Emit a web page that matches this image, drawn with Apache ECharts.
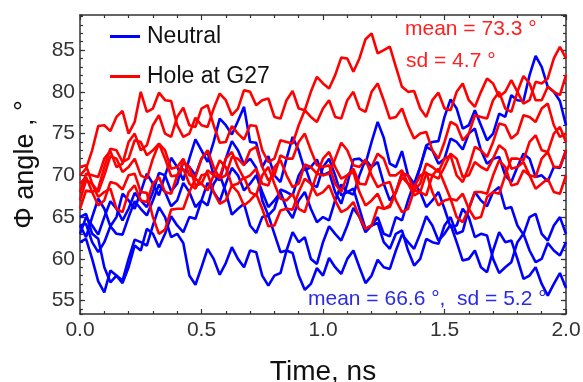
<!DOCTYPE html>
<html>
<head>
<meta charset="utf-8">
<title>Phi angle vs time</title>
<script src="https://cdn.jsdelivr.net/npm/echarts@6/dist/echarts.min.js"></script>
<style>
  html, body { margin: 0; padding: 0; background: #fff; }
  #chart { width: 583px; height: 382px; }
</style>
</head>
<body>
<div id="chart"></div>
<script>
// time grid, ns (every 0.025 ns, 81 samples)
var times = [];
for (var i = 0; i <= 80; i++) times.push(+(i * 0.025).toFixed(3));

// Neutral runs (blue), deg — each row is 0.25 ns
var neutral1 = [
  64, 62.6, 65, 67.2, 66, 63.9, 65, 67.8, 67, 66.0,
  68, 70.2, 69, 67.6, 70, 72.1, 71, 69.4, 72, 74.3,
  73, 71.6, 74, 76.8, 76, 74.9, 76.5, 78.2, 74, 73.9,
  71, 72.3, 70, 69.2, 72, 74.6, 73, 70.6, 71, 71.9,
  70, 70.4, 68, 66.6, 69, 71.9, 72, 71.4, 74, 76.4,
  74.5, 71.4, 71, 72.9, 70, 68.6, 71, 73.6, 74, 74.1,
  77, 79.1, 78, 75.6, 76, 77.8, 76, 74.2, 75, 77.4,
  77, 79.6, 79, 78.9, 82, 84.3, 83, 80.6, 80, 78.9,
  76
];
var neutral2 = [
  62, 62.4, 60, 57.3, 56, 58.6, 58, 57.1, 59, 61.6,
  61, 63.6, 63, 61.4, 63, 65.1, 64, 63.2, 65, 64.8,
  67, 66.4, 69, 70.1, 68, 65.3, 66, 66.6, 64, 63.1,
  65, 65.2, 63, 60.8, 61, 60.7, 58, 56.3, 57, 58.9,
  58, 60.1, 59, 58.2, 60, 61.0, 59, 57.1, 58, 59.9,
  59, 58.8, 61, 62.9, 62, 61.2, 63, 65.1, 64, 62.2,
  63, 64.1, 62, 59.8, 60, 61.0, 59, 58.4, 61, 63.2,
  62, 62.2, 60, 57.6, 58, 59.0, 57, 55.6, 57, 58.3,
  56.5
];
var neutral3 = [
  65, 65.4, 63, 62.4, 59, 57.2, 58, 57.4, 60, 62.3,
  62, 61.6, 64, 66.2, 65, 62.6, 63, 61.9, 58, 56.9,
  59, 61.2, 60, 58.1, 59.5, 61.4, 60, 59.0, 61, 60.8,
  58, 56.8, 58, 58.3, 61, 63.2, 62, 62.6, 60, 59.4,
  62, 63.9, 63, 62.2, 64, 66.1, 65, 63.2, 64, 65.0,
  63, 62.7, 65, 64.6, 67, 69.1, 68, 66.2, 67, 68.0,
  66, 63.8, 64, 66.0, 65, 62.6, 63, 62.8, 60, 58.3,
  59, 59.6, 62, 63.0, 61, 59.6, 60, 61.9, 61, 60.4,
  62
];
var neutral4 = [
  63, 65.0, 64, 62.9, 65, 66.9, 66, 64.6, 66, 67.9,
  67, 66.2, 68, 70.3, 70, 68.1, 69, 71.6, 71, 70.0,
  72, 72.8, 70, 69.4, 72, 74.1, 73, 71.3, 72, 70.9,
  67, 65.2, 66, 68.3, 68, 67.6, 70, 71.2, 69, 68.6,
  71, 72.0, 70, 67.6, 68, 68.4, 66, 63.6, 64, 64.3,
  62, 61.2, 63, 63.4, 61, 59.2, 60, 62.4, 62, 61.8,
  64, 65.0, 63, 63.3, 66, 68.0, 67, 66.3, 68, 68.6,
  66, 66.2, 64, 62.9, 65, 65.4, 63, 62.2, 64, 65.0,
  63
];
var neutral5 = [
  64, 64.2, 62, 60.8, 62, 63.9, 63, 62.9, 65, 66.9,
  66, 65.2, 67, 68.9, 68, 66.3, 67, 69.1, 68, 66.2,
  67, 69.1, 68, 66.9, 69, 70.9, 70, 68.2, 69, 70.0,
  68, 66.2, 67, 68.0, 66, 64.9, 67, 68.0, 66, 64.4,
  65, 64.6, 67, 68.9, 68, 67.7, 70, 71.9, 71, 71.6,
  69, 67.0, 68, 70.2, 70, 69.0, 71, 73.4, 73, 71.4,
  72, 74.4, 74, 73.1, 75, 75.6, 73, 71.4, 72, 72.2,
  70, 69.2, 71, 72.6, 72, 69.8, 70, 69.3, 71, 70.9,
  73
];

// Hole at G27 runs (red), deg
var hole1 = [
  70, 70.8, 73, 75.9, 76, 75.3, 77, 77.7, 75, 76.4,
  80, 77.6, 78, 79.9, 79, 78.9, 76, 74.6, 75, 76.9,
  76, 75.8, 78, 79.8, 79, 77.2, 78, 80.2, 80, 78.4,
  79, 79.2, 77, 76.8, 79, 80.1, 78, 77.8, 80, 81.8,
  81, 80.4, 82, 84.1, 84, 82.4, 84, 86.3, 87, 84.6,
  85, 85.4, 83, 80.6, 80, 80.1, 78, 77.0, 79, 79.9,
  78, 77.8, 80, 81.0, 79, 78.2, 80, 81.6, 81, 79.4,
  80, 81.4, 80, 78.6, 79, 81.2, 81, 81.6, 84, 85.4,
  84
];
var hole2 = [
  68, 70.2, 70, 69.8, 72, 72.9, 71, 71.4, 74, 75.0,
  73, 73.6, 76, 77.2, 75, 74.6, 77, 78.1, 76, 75.8,
  78, 78.4, 76, 73.9, 74, 75.9, 75, 74.3, 76, 75.9,
  73, 71.6, 72, 74.2, 74, 73.8, 76, 77.8, 77, 76.4,
  78, 79.0, 77, 76.8, 79, 80.0, 78, 77.6, 80, 81.0,
  79, 76.8, 77, 78.0, 76, 74.4, 75, 75.2, 73, 72.0,
  74, 76.4, 76, 74.2, 75, 77.2, 77, 76.8, 79, 80.0,
  78, 77.6, 80, 81.9, 81, 79.0, 79, 80.6, 80, 79.6,
  82
];
var hole3 = [
  67, 69.4, 69, 68.0, 70, 72.3, 72, 70.4, 71, 72.0,
  70, 69.6, 72, 73.8, 73, 70.8, 71, 72.0, 70, 69.8,
  72, 73.0, 71, 69.6, 70, 72.2, 72, 71.2, 73, 73.4,
  71, 69.4, 70, 72.4, 72, 72.0, 74, 75.0, 73, 71.2,
  71, 71.2, 69, 68.0, 70, 70.4, 68, 66.4, 67, 67.8,
  66, 66.2, 68, 70.3, 70, 68.2, 69, 71.4, 71, 70.4,
  72, 72.4, 70, 69.2, 71, 73.4, 73, 72.2, 74, 76.2,
  76, 74.4, 75, 77.2, 77, 76.4, 78, 78.6, 76, 74.6,
  75
];
var hole4 = [
  69, 69.8, 68, 66.4, 67, 69.2, 69, 68.3, 70, 70.2,
  68, 67.9, 65, 63.0, 63.5, 65.9, 66, 66.0, 68, 69.6,
  69, 68.2, 70, 71.8, 71, 68.8, 69, 69.8, 68, 67.6,
  70, 71.0, 69, 67.2, 67, 67.8, 66, 65.6, 68, 70.2,
  70, 70.2, 72, 73.9, 73, 71.2, 71, 71.9, 70, 68.6,
  69, 69.2, 67, 65.6, 66, 68.2, 68, 67.6, 70, 70.8,
  69, 67.2, 67, 67.8, 66, 64.8, 65, 67.4, 68, 67.8,
  70, 72.0, 72, 71.8, 74, 74.8, 73, 72.8, 75, 75.8,
  74
];
var hole5 = [
  71, 71.2, 69, 67.4, 68, 68.4, 66, 65.6, 68, 68.8,
  67, 66.8, 69, 69.8, 68, 67.8, 70, 70.8, 69, 68.4,
  70, 70.2, 68, 66.6, 67, 68.8, 68, 66.4, 67, 67.8,
  66, 63.9, 64, 65.8, 66, 65.9, 68, 69.6, 69, 67.6,
  68, 68.8, 67, 65.6, 66, 66.8, 65, 63.6, 64, 66.2,
  66, 66.4, 68, 69.8, 69, 68.6, 70, 70.4, 68, 66.4,
  67, 67.2, 65, 64.4, 66, 68.0, 68, 67.8, 70, 71.8,
  71, 68.8, 69, 70.6, 70, 69.8, 72, 72.8, 71, 71.0,
  73
];
var hole6 = [
  66, 68.2, 68, 68.4, 71, 73.2, 73, 71.6, 72, 74.2,
  74, 72.4, 73, 73.8, 72, 69.9, 70, 71.6, 71, 68.8,
  69, 70.6, 70, 69.8, 72, 72.8, 71, 69.6, 70, 70.8,
  69, 68.8, 71, 71.8, 70, 68.6, 69, 71.3, 71, 70.2,
  72, 72.8, 71, 69.6, 70, 70.8, 69, 68.9, 71, 72.6,
  72, 70.0, 70, 70.6, 69, 67.6, 68, 70.2, 70, 69.6,
  71, 72.6, 72, 69.8, 70, 71.6, 71, 70.6, 72, 73.6,
  73, 70.8, 71, 71.6, 70, 68.4, 69, 69.6, 68, 67.8,
  70
];

var neutralRuns = [neutral1, neutral2, neutral3, neutral4, neutral5];
var holeRuns = [hole1, hole2, hole3, hole4, hole5, hole6];

var BLUE = '#0000ff';
var RED = '#ff0000';
var AXIS = '#333333';
var FONT = 'Liberation Sans, Arial, sans-serif';

var yMin = 53.4, yMax = 89.2;

function pairs(vals) {
  return vals.map(function (v, k) { return [times[k], v]; });
}

function runSeries(name, color, vals) {
  return {
    name: name,
    type: 'line',
    data: pairs(vals),
    symbol: 'none',
    showSymbol: false,
    lineStyle: { color: color, width: 2.6 },
    itemStyle: { color: color },
    silent: true
  };
}

var series = [];
neutralRuns.forEach(function (r) { series.push(runSeries('Neutral', BLUE, r)); });
holeRuns.forEach(function (r) { series.push(runSeries('Hole at G27', RED, r)); });

function xAxisOpt(pos, labels) {
  return {
    type: 'value',
    position: pos,
    min: 0,
    max: 2,
    interval: 0.5,
    axisLine: { show: true, onZero: false, lineStyle: { color: AXIS, width: 1.5 } },
    axisTick: { inside: true, length: 5, lineStyle: { color: AXIS, width: 1.2 } },
    minorTick: { show: true, splitNumber: 5, length: 3, lineStyle: { color: AXIS, width: 1.2 } },
    splitLine: { show: false },
    axisLabel: {
      show: labels,
      margin: 6,
      color: AXIS,
      fontSize: 21,
      fontFamily: FONT,
      formatter: function (v) { return v.toFixed(1); }
    },
    name: labels ? 'Time, ns' : '',
    nameLocation: 'middle',
    nameGap: 44,
    nameTextStyle: { color: '#111', fontSize: 28, fontFamily: FONT }
  };
}

// major y axis (auto interval pinned to 5) and minor one (pinned to 1)
function yAxisOpt(pos, major, labels) {
  return {
    type: 'value',
    position: pos,
    min: yMin,
    max: yMax,
    minInterval: major ? 5 : 1,
    maxInterval: major ? 5 : 1,
    splitNumber: major ? 7 : 36,
    axisLine: { show: major, onZero: false, lineStyle: { color: AXIS, width: 1.5 } },
    axisTick: { inside: true, length: major ? 5 : 3, lineStyle: { color: AXIS, width: 1.2 } },
    splitLine: { show: false },
    axisLabel: {
      show: labels,
      margin: 5,
      color: AXIS,
      fontSize: 21,
      fontFamily: FONT,
      showMinLabel: false,
      showMaxLabel: false
    },
    name: labels ? 'Φ angle , °' : '',
    nameLocation: 'middle',
    nameGap: 41,
    nameTextStyle: { color: '#111', fontSize: 27, fontFamily: FONT }
  };
}

var chartDom = document.getElementById('chart');
var myChart = echarts.init(chartDom, null, { renderer: 'canvas' });
var option = {
  animation: false,
  backgroundColor: '#ffffff',
  grid: { left: 80, right: 17, top: 15, bottom: 68, containLabel: false, outerBoundsMode: 'none' },
  legend: {
    data: ['Neutral', 'Hole at G27'],
    orient: 'vertical',
    left: 105,
    top: 20,
    icon: 'rect',
    itemWidth: 30,
    itemHeight: 3,
    itemGap: 17,
    selectedMode: false,
    textStyle: { color: '#111', fontSize: 23, fontFamily: FONT, lineHeight: 23, padding: [0, 0, 0, 2] }
  },
  xAxis: [xAxisOpt('bottom', true), xAxisOpt('top', false)],
  yAxis: [
    yAxisOpt('left', true, true),
    yAxisOpt('left', false, false),
    yAxisOpt('right', true, false),
    yAxisOpt('right', false, false)
  ],
  series: series,
  graphic: [
    {
      type: 'text', left: 405, top: 19, z: 100,
      style: { text: 'mean = 73.3 °', fill: '#ff2020', font: '21px ' + FONT }
    },
    {
      type: 'text', left: 406, top: 51, z: 100,
      style: { text: 'sd = 4.7 °', fill: '#ff2020', font: '21px ' + FONT }
    },
    {
      type: 'text', left: 308, top: 289, z: 100,
      style: { text: 'mean = 66.6 °,  sd = 5.2 °', fill: '#2a2ae8', font: '21px ' + FONT }
    }
  ]
};
myChart.setOption(option);
</script>
</body>
</html>
